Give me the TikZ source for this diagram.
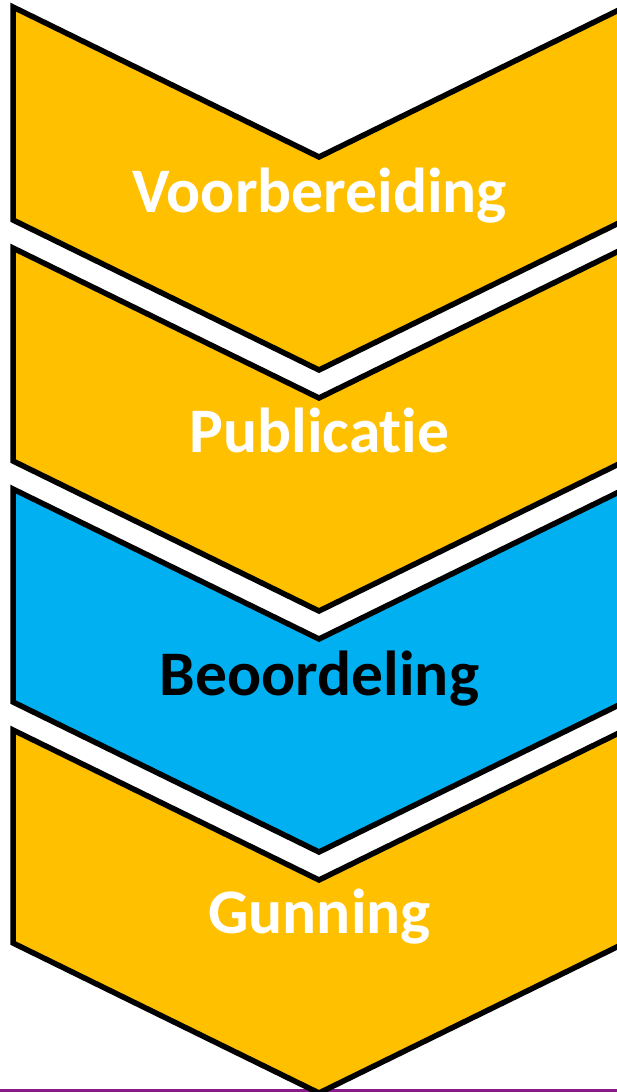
\documentclass[tikz,border=0pt]{standalone}
\usepackage{fontspec}
\setmainfont[Ligatures=NoCommon]{Carlito}
\definecolor{gold}{HTML}{FFC000}
\definecolor{skyblue}{HTML}{00B0F0}
\definecolor{purpleline}{HTML}{8B1A89}
\tikzset{
  chevron/.style={draw=black, line width=5.5pt, line join=miter},
  label/.style={anchor=base, font=\fontsize{63.5}{76}\selectfont\bfseries, inner sep=0pt}
}
\begin{document}
\begin{tikzpicture}[x=1pt,y=1pt]
\useasboundingbox (0,0) rectangle (617,-1092);
\clip (0,0) rectangle (617,-1092);
\fill[white] (0,0) rectangle (617,-1092);
\draw[purpleline, line width=2.5pt] (0,-1090.5) -- (617,-1090.5);
\foreach \o/\c in {7/gold,248/gold,489/skyblue,730/gold}{
  \draw[chevron, fill=\c] (13,-\o) -- (319,-\o-150) -- (625,-\o) -- (625,-\o-213)
     -- (319,-\o-363) -- (13,-\o-213) -- cycle;
}
\node[label, text=white] (voorbereiding) at (319.5,-212) {Voorbereiding};
\node[label, text=white] (publicatie) at (319.5,-452) {Publicatie};
\node[label, text=black] (beoordeling) at (319.5,-695) {Beoordeling};
\node[label, text=white] (gunning) at (319.5,-933) {Gunning};
\end{tikzpicture}
\end{document}
